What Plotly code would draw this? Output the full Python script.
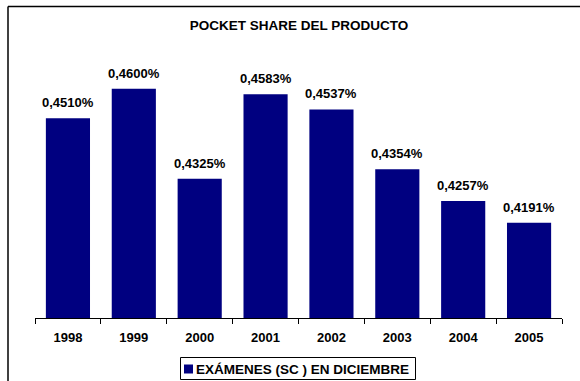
import plotly.graph_objects as go

years = ["1998", "1999", "2000", "2001", "2002", "2003", "2004", "2005"]
values = [0.4510, 0.4600, 0.4325, 0.4583, 0.4537, 0.4354, 0.4257, 0.4191]
labels = [("%.4f%%" % v).replace(".", ",") for v in values]
series_name = "EXÁMENES (SC ) EN DICIEMBRE"
title_text = "POCKET SHARE DEL PRODUCTO"

W, H = 580, 381
L, R, T, B = 35, 18, 56, 63
FONT = "Liberation Sans, Arial, sans-serif"
NAVY = "#000080"
FS = 13
FS_BIG = 13.5
FS_LAB = 13

fig = go.Figure()
fig.add_trace(go.Bar(
    x=years, y=values, name=series_name,
    marker=dict(color=NAVY, line=dict(width=0)),
    showlegend=False, hoverinfo="x+y",
))

# value labels above bars (x given as category index)
for i, (v, lab) in enumerate(zip(values, labels)):
    fig.add_annotation(x=i, y=v, text=lab, showarrow=False,
                       xanchor="center", yanchor="bottom", yshift=6,
                       font=dict(family=FONT, size=FS_LAB, color="black",
                                 weight="bold"))

pw = W - L - R
ph = H - T - B


def px(x):
    return (x - L) / pw


def py(y):
    return (H - B - y) / ph


# outer border (left and top lines only visible)
fig.add_shape(type="line", xref="paper", yref="paper",
              x0=px(8), x1=px(8), y0=py(6.5), y1=py(H + 5),
              line=dict(color="black", width=1.5))
fig.add_shape(type="line", xref="paper", yref="paper",
              x0=px(8), x1=px(W + 5), y0=py(6.5), y1=py(6.5),
              line=dict(color="black", width=1.5))

# legend box drawn by hand
fig.add_shape(type="rect", xref="paper", yref="paper",
              x0=px(180.5), x1=px(415.5), y0=py(357.5), y1=py(379.5),
              line=dict(color="black", width=1), fillcolor="white")
fig.add_shape(type="rect", xref="paper", yref="paper",
              x0=px(184), x1=px(193), y0=py(364.5), y1=py(373.5),
              line=dict(width=0), fillcolor=NAVY)
fig.add_annotation(xref="paper", yref="paper", x=px(194), y=py(369),
                   xanchor="left", yanchor="middle", showarrow=False,
                   text=series_name,
                   font=dict(family=FONT, size=FS_BIG, color="black", weight="bold"))

fig.update_layout(
    width=W, height=H,
    margin=dict(l=L, r=R, t=T, b=B, autoexpand=False),
    paper_bgcolor="white", plot_bgcolor="white",
    bargap=0.33,
    title=dict(text=title_text, x=299 / W, xanchor="center",
               y=1 - 25 / H, yanchor="middle",
               font=dict(family=FONT, size=FS_BIG, color="black", weight="bold")),
    xaxis=dict(type="category", categoryorder="array", categoryarray=years,
               range=[-0.5, len(years) - 0.5],
               showline=True, linecolor="black", linewidth=1,
               ticks="outside", ticklen=5, tickcolor="black",
               tickson="boundaries", showgrid=False, ticklabelstandoff=7,
               tickfont=dict(family=FONT, size=FS, color="black", weight="bold")),
    yaxis=dict(range=[0.39, 0.47], visible=False, showgrid=False),
    showlegend=False,
)

fig.write_html("out.html", config={"displayModeBar": False},
               post_script="document.body.style.margin='0px';document.body.style.padding='0px';")
